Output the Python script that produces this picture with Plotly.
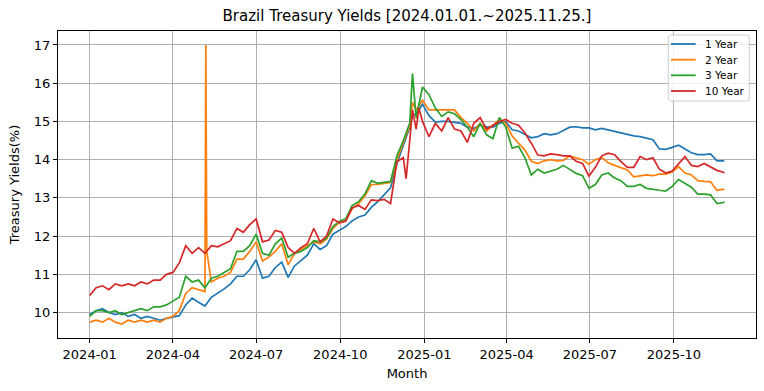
import pandas as pd
import plotly.graph_objects as go

# ---- data (weekly readings, Mondays 2024-01-01 .. 2025-11-24, plus 2025-11-25) ----
week_start = "2024-01-01"
week_end = "2025-11-24"
last_date = "2025-11-25"

y1 = [9.95, 10.05, 10.1, 10.0, 9.95, 10.0, 9.9, 9.95, 9.85, 9.9,
      9.85, 9.8, 9.85, 9.88, 9.92, 10.2, 10.38, 10.27, 10.17, 10.4,
      10.5, 10.62, 10.75, 10.95, 10.95, 11.12, 11.38, 10.9, 10.95, 11.18,
      11.32, 10.92, 11.22, 11.35, 11.5, 11.8, 11.65, 11.75, 12.05, 12.15,
      12.25, 12.4, 12.5, 12.55, 12.75, 12.9, 13.09, 13.26, 13.9, 14.4,
      14.85, 15.2, 15.45, 15.15, 14.98, 15.0, 15.0, 14.98, 14.95, 14.85,
      14.82, 14.9, 14.85, 14.85, 14.95, 15.0, 14.78, 14.75, 14.65, 14.57,
      14.6, 14.68, 14.65, 14.68, 14.76, 14.85, 14.86, 14.83, 14.83, 14.78,
      14.82, 14.78, 14.75, 14.7, 14.65, 14.62, 14.6, 14.57, 14.52, 14.28,
      14.27, 14.32, 14.38, 14.28, 14.18, 14.13, 14.13, 14.15, 13.97, 13.97,
      13.98]
y2 = [9.75, 9.8, 9.75, 9.85, 9.75, 9.7, 9.8, 9.75, 9.8, 9.75,
      9.8, 9.75, 9.85, 9.9, 10.05, 10.5, 10.65, 10.6, 10.55, 10.8,
      10.9, 10.95, 11.05, 11.4, 11.4, 11.6, 11.85, 11.35, 11.45, 11.6,
      11.8, 11.25, 11.55, 11.65, 11.75, 11.85, 11.8, 11.92, 12.2, 12.35,
      12.4, 12.72, 12.85, 13.05, 13.35, 13.35, 13.38, 13.4, 14.0, 14.45,
      14.9, 15.3, 15.55, 15.3, 15.3, 15.3, 15.3, 15.3, 15.1, 14.95,
      14.75, 14.95, 14.75, 14.9, 15.05, 14.95, 14.62, 14.43, 14.25, 13.96,
      13.9, 13.97, 14.0, 13.97, 13.98, 14.1, 14.05, 14.0, 13.88, 14.0,
      14.06, 13.92, 13.85, 13.8, 13.73, 13.55, 13.58, 13.6, 13.58, 13.62,
      13.62, 13.68, 13.82, 13.65, 13.6, 13.45, 13.43, 13.42, 13.2, 13.22,
      13.23]
y3 = [9.9, 10.05, 10.05, 10.0, 10.05, 9.95, 10.0, 10.05, 10.1, 10.05,
      10.15, 10.15, 10.2, 10.3, 10.4, 10.95, 10.8, 10.85, 10.65, 10.9,
      10.95, 11.05, 11.15, 11.6, 11.6, 11.75, 12.05, 11.55, 11.5, 11.8,
      11.95, 11.45, 11.55, 11.6, 11.7, 11.88, 11.85, 11.95, 12.25, 12.39,
      12.45, 12.8, 12.9, 13.1, 13.45, 13.38, 13.4, 13.43, 14.1, 14.5,
      14.96, 15.09, 15.9, 15.7, 15.35, 15.13, 15.25, 15.2, 15.05, 14.85,
      14.6, 14.95, 14.65, 14.55, 15.1, 14.85, 14.3, 14.35, 14.05, 13.6,
      13.75, 13.65, 13.7, 13.75, 13.85, 13.75, 13.64, 13.58, 13.25, 13.35,
      13.6, 13.65, 13.52, 13.45, 13.3, 13.3, 13.35, 13.25, 13.22, 13.2,
      13.18, 13.3, 13.48, 13.38, 13.28, 13.1, 13.1, 13.08, 12.85, 12.88,
      12.9]
y10 = [10.45, 10.65, 10.7, 10.6, 10.75, 10.7, 10.75, 10.7, 10.8, 10.75,
       10.85, 10.85, 11.0, 11.05, 11.3, 11.75, 11.55, 11.7, 11.55, 11.75,
       11.72, 11.8, 11.88, 12.2, 12.1, 12.3, 12.45, 11.85, 11.9, 12.15,
       12.1, 11.7, 11.55, 11.7, 11.8, 12.2, 11.85, 12.0, 12.45, 12.35,
       12.39, 12.74, 12.8, 12.7, 12.95, 12.93, 12.96, 12.85, 13.95, 14.05,
       14.5, 14.8, 15.0, 14.6, 14.95, 14.75, 15.1, 14.8, 14.75, 14.45,
       14.95, 15.1, 14.8, 14.9, 15.0, 15.05, 14.95, 14.9, 14.7, 14.43,
       14.12, 14.1, 14.15, 14.13, 14.1, 14.1, 13.96, 13.9, 13.57, 13.8,
       14.1, 14.17, 14.13, 13.95, 13.8, 13.8, 14.08, 14.0, 14.05, 13.75,
       13.65, 13.7, 13.9, 14.08, 13.85, 13.82, 13.9, 13.8, 13.72, 13.67,
       13.65]

# extra daily readings (spikes / dips)
x1_extra_dates = ["2024-12-19"]
x1_extra_vals = [15.15]
x2_extra_dates = ["2024-05-07", "2024-05-08", "2024-12-19"]
x2_extra_vals = [17.0, 11.6, 15.5]
x3_extra_dates = ["2024-12-19"]
x3_extra_vals = [16.25]
x10_extra_dates = ["2024-12-12", "2024-12-19", "2024-12-26"]
x10_extra_vals = [13.5, 15.3, 15.35]

names = ["1 Year", "2 Year", "3 Year", "10 Year"]
colors = ["#1f77b4", "#ff7f0e", "#2ca02c", "#d62728"]

tick_dates = ["2024-01-01", "2024-04-01", "2024-07-01", "2024-10-01",
              "2025-01-01", "2025-04-01", "2025-07-01", "2025-10-01"]
y_ticks = [10, 11, 12, 13, 14, 15, 16, 17]

# ---- build ----
base_dates = list(pd.date_range(week_start, week_end, freq="7D")) + [pd.Timestamp(last_date)]


def series(vals, ex_dates, ex_vals):
    s = pd.Series(vals, index=pd.DatetimeIndex(base_dates))
    e = pd.Series(ex_vals, index=pd.to_datetime(ex_dates))
    return pd.concat([s, e]).sort_index()


all_series = [
    series(y1, x1_extra_dates, x1_extra_vals),
    series(y2, x2_extra_dates, x2_extra_vals),
    series(y3, x3_extra_dates, x3_extra_vals),
    series(y10, x10_extra_dates, x10_extra_vals),
]

fig = go.Figure()
for s, n, c in zip(all_series, names, colors):
    fig.add_trace(go.Scatter(x=s.index, y=s.values, mode="lines", name=n,
                             line=dict(color=c, width=1.7), showlegend=False))

t0 = pd.Timestamp(week_start)
t1 = pd.Timestamp(last_date)
pad = (t1 - t0) * 0.05
x_range = [t0 - pad, t1 + pad]

all_vals = pd.concat(all_series)
ymin, ymax = all_vals.min(), all_vals.max()
ypad = (ymax - ymin) * 0.05

# ---- layout geometry (pixels) ----
W, H = 764, 391
ML, MR, MT, MB = 58, 8, 31, 53
PW, PH = W - ML - MR, H - MT - MB


def px(x):
    return (x - ML) / PW


def py(y):
    return (H - MB - y) / PH


font = "DejaVu Sans"

# matplotlib-style legend box (upper right)
bx0, bx1, by0, by1, r = 668.3, 749.3, 35, 101, 3
rx, ry = r / PW, r / PH
X0, X1, Yt, Yb = px(bx0), px(bx1), py(by0), py(by1)
box_path = (f"M {X0+rx},{Yt} L {X1-rx},{Yt} Q {X1},{Yt} {X1},{Yt-ry} "
            f"L {X1},{Yb+ry} Q {X1},{Yb} {X1-rx},{Yb} "
            f"L {X0+rx},{Yb} Q {X0},{Yb} {X0},{Yb+ry} "
            f"L {X0},{Yt-ry} Q {X0},{Yt} {X0+rx},{Yt} Z")
shapes = [dict(type="path", path=box_path, xref="paper", yref="paper",
               fillcolor="rgba(255,255,255,0.8)", line=dict(color="#cccccc", width=1),
               layer="above")]
annotations = []
row_y = [44, 59.7, 75.3, 91]
for n, c, ry_ in zip(names, colors, row_y):
    shapes.append(dict(type="line", xref="paper", yref="paper",
                       x0=px(671), x1=px(695.7), y0=py(ry_), y1=py(ry_),
                       line=dict(color=c, width=1.8), layer="above"))
    annotations.append(dict(text=n, xref="paper", yref="paper", x=px(702.5), y=py(ry_),
                            xanchor="left", yanchor="middle", showarrow=False,
                            font=dict(family=font, size=10.5, color="black")))

fig.update_layout(
    width=W, height=H,
    margin=dict(l=ML, r=MR, t=MT, b=MB),
    paper_bgcolor="white", plot_bgcolor="white",
    font=dict(family=font, size=13, color="black"),
    title=dict(text="Brazil Treasury Yields [2024.01.01.~2025.11.25.]",
               x=(ML + W - MR) / 2 / W, xanchor="center",
               y=1 - 16 / H, yanchor="middle",
               font=dict(family=font, size=15, color="black")),
    showlegend=False,
    shapes=shapes,
    annotations=annotations,
)
fig.update_xaxes(
    type="date", range=x_range, tickvals=tick_dates, tickformat="%Y-%m",
    ticks="outside", ticklen=4, tickcolor="black", tickwidth=1,
    showline=True, linecolor="black", linewidth=1, mirror=True,
    showgrid=True, gridcolor="#b0b0b0", gridwidth=0.8, zeroline=False,
    title=dict(text="Month", standoff=8, font=dict(family=font, size=13)),
    tickfont=dict(family=font, size=13),
)
fig.update_yaxes(
    range=[ymin - ypad, ymax + ypad], tickvals=y_ticks,
    ticks="outside", ticklen=4, tickcolor="black", tickwidth=1,
    showline=True, linecolor="black", linewidth=1, mirror=True,
    showgrid=True, gridcolor="#b0b0b0", gridwidth=0.8, zeroline=False,
    title=dict(text="Treasury Yields(%)", standoff=11, font=dict(family=font, size=13)),
    tickfont=dict(family=font, size=13),
)

fig.write_html("out.html", config={"displayModeBar": False},
               post_script="document.body.style.margin='0px';")
